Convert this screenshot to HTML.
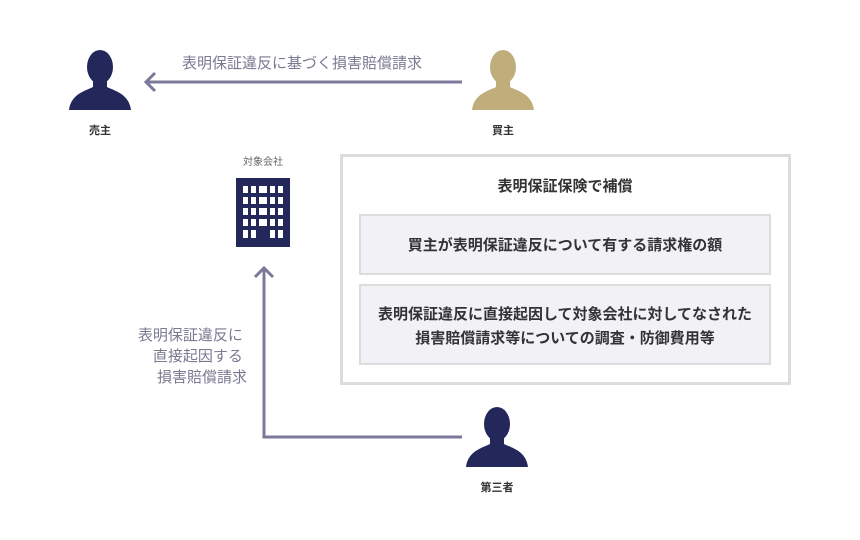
<!DOCTYPE html>
<html><head><meta charset="utf-8"><style>
html,body{margin:0;padding:0;background:#fff;}
svg{display:block;font-family:"Liberation Sans","Noto Sans CJK JP",sans-serif;}
</style></head><body>
<svg width="860" height="540" viewBox="0 0 860 540" xmlns="http://www.w3.org/2000/svg">
<defs>
<g id="person">
<ellipse cx="0" cy="17" rx="13" ry="17"/>
<path d="M-7,28 L-7,37 C-15,41 -29,44 -31,60 L31,60 C29,44 15,41 7,37 L7,28 Z"/>
</g>
</defs>
<use href="#person" x="100" y="50" fill="#232759"/>
<text x="100" y="134" font-size="11" font-weight="bold" fill="#333" text-anchor="middle">売主</text>
<use href="#person" x="503" y="50" fill="#bfae7c"/>
<text x="503" y="134" font-size="11" font-weight="bold" fill="#333" text-anchor="middle">買主</text>
<line x1="462" y1="82" x2="146" y2="82" stroke="#7b7a9a" stroke-width="3"/>
<polyline points="155,73 146,82 155,91" fill="none" stroke="#7b7a9a" stroke-width="3"/>
<text x="302" y="68" font-size="15" fill="#7a7a92" text-anchor="middle">表明保証違反に基づく損害賠償請求</text>
<text x="263" y="165" font-size="10" fill="#666" text-anchor="middle">対象会社</text>
<rect x="236" y="178" width="54" height="69" fill="#232759"/>
<g fill="#fff">
<rect x="243" y="186" width="5" height="7"/><rect x="251" y="186" width="5" height="7"/><rect x="259" y="186" width="8" height="7"/><rect x="270" y="186" width="5" height="7"/><rect x="278" y="186" width="5" height="7"/>
<rect x="243" y="197" width="5" height="7"/><rect x="251" y="197" width="5" height="7"/><rect x="259" y="197" width="8" height="7"/><rect x="270" y="197" width="5" height="7"/><rect x="278" y="197" width="5" height="7"/>
<rect x="243" y="208" width="5" height="7"/><rect x="251" y="208" width="5" height="7"/><rect x="259" y="208" width="8" height="7"/><rect x="270" y="208" width="5" height="7"/><rect x="278" y="208" width="5" height="7"/>
<rect x="243" y="219" width="5" height="7"/><rect x="251" y="219" width="5" height="7"/><rect x="259" y="219" width="8" height="7"/><rect x="270" y="219" width="5" height="7"/><rect x="278" y="219" width="5" height="7"/>
<rect x="243" y="230" width="5" height="8"/><rect x="251" y="230" width="5" height="8"/><rect x="270" y="230" width="5" height="8"/><rect x="278" y="230" width="5" height="8"/>
</g>
<polyline points="462,437 264,437 264,268" fill="none" stroke="#7b7a9a" stroke-width="3"/>
<polyline points="255,277 264,268 273,277" fill="none" stroke="#7b7a9a" stroke-width="3"/>
<text font-size="15" fill="#7a7a92" text-anchor="end">
<tspan x="247" y="340">表明保証違反に</tspan>
<tspan x="247" y="361">直接起因する</tspan>
<tspan x="247" y="382">損害賠償請求</tspan>
</text>
<use href="#person" x="497" y="407" fill="#232759"/>
<text x="497" y="491" font-size="11" font-weight="bold" fill="#333" text-anchor="middle">第三者</text>
<rect x="341.5" y="155.5" width="448" height="228" fill="#fff" stroke="#dcdcdc" stroke-width="3"/>
<text x="565" y="191" font-size="15" font-weight="bold" fill="#333" text-anchor="middle">表明保証保険で補償</text>
<rect x="360" y="215" width="410" height="59" fill="#f2f1f6" stroke="#dcdcdc" stroke-width="2"/>
<text x="565" y="250" font-size="15" font-weight="bold" fill="#333" text-anchor="middle">買主が表明保証違反について有する請求権の額</text>
<rect x="360" y="285" width="410" height="79" fill="#f2f1f6" stroke="#dcdcdc" stroke-width="2"/>
<text x="565" y="319" font-size="15" font-weight="bold" fill="#333" text-anchor="middle">表明保証違反に直接起因して対象会社に対してなされた</text>
<text x="565" y="343" font-size="15" font-weight="bold" fill="#333" text-anchor="middle">損害賠償請求等についての調査・防御費用等</text>
</svg>
</body></html>
